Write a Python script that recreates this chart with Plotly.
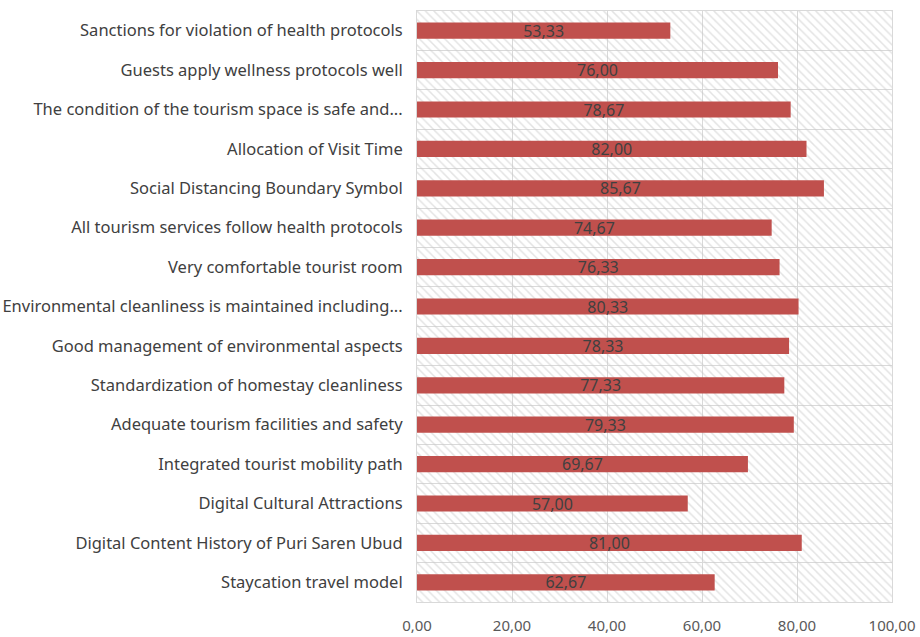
import plotly.graph_objects as go

categories = [
    "Sanctions for violation of health protocols",
    "Guests apply wellness protocols well",
    "The condition of the tourism space is safe and...",
    "Allocation of Visit Time",
    "Social Distancing Boundary Symbol",
    "All tourism services follow health protocols",
    "Very comfortable tourist room",
    "Environmental cleanliness is maintained including...",
    "Good management of environmental aspects",
    "Standardization of homestay cleanliness",
    "Adequate tourism facilities and safety",
    "Integrated tourist mobility path",
    "Digital Cultural Attractions",
    "Digital Content History of Puri Saren Ubud",
    "Staycation travel model",
]
values = [53.33, 76.00, 78.67, 82.00, 85.67, 74.67, 76.33, 80.33, 78.33,
          77.33, 79.33, 69.67, 57.00, 81.00, 62.67]
x_max = 100
tick_vals = [0, 20, 40, 60, 80, 100]

FONT = "Noto Sans"

fig = go.Figure()
# hatched plot-area background
fig.add_trace(go.Bar(
    y=categories, x=[x_max] * len(categories), orientation="h", width=1,
    marker=dict(color="rgba(0,0,0,0)", line=dict(width=0),
                pattern=dict(shape="\\", fgcolor="#c8c8c8", bgcolor="rgba(0,0,0,0)",
                             size=6, solidity=0.25)),
    hoverinfo="skip", showlegend=False,
))
fig.add_trace(go.Bar(
    y=categories, x=values, orientation="h", width=0.41,
    marker=dict(color="#C0504D", line=dict(width=0)),
    texttemplate="%{x:.2f}", textposition="inside", insidetextanchor="middle",
    constraintext="none",
    textfont=dict(color="#404040", size=16, family=FONT),
    showlegend=False,
))
fig.update_layout(
    barmode="overlay",
    separators=",.",
    width=920, height=637,
    margin=dict(l=417, r=28, t=11, b=35, autoexpand=False),
    paper_bgcolor="white", plot_bgcolor="white",
    font=dict(family=FONT, size=16, color="#595959"),
    xaxis=dict(range=[0, x_max], tickvals=tick_vals, tickformat=".2f",
               showgrid=True, gridcolor="#d9d9d9", gridwidth=1, zeroline=False,
               showline=True, linecolor="#d9d9d9", mirror=True, ticks="",
               ticklabelstandoff=10,
               automargin=False, tickfont=dict(size=15, color="#595959")),
    yaxis=dict(autorange="reversed", tickson="boundaries", showgrid=True,
               gridcolor="#d9d9d9", gridwidth=1, showline=True, linecolor="#d9d9d9",
               mirror=True, ticks="", ticklabelstandoff=10, automargin=False,
               tickfont=dict(size=16.5, color="#404040")),
)
fig.write_html("out.html", config={"displayModeBar": False},
               post_script="document.body.style.margin='0';document.body.style.overflow='hidden';")
